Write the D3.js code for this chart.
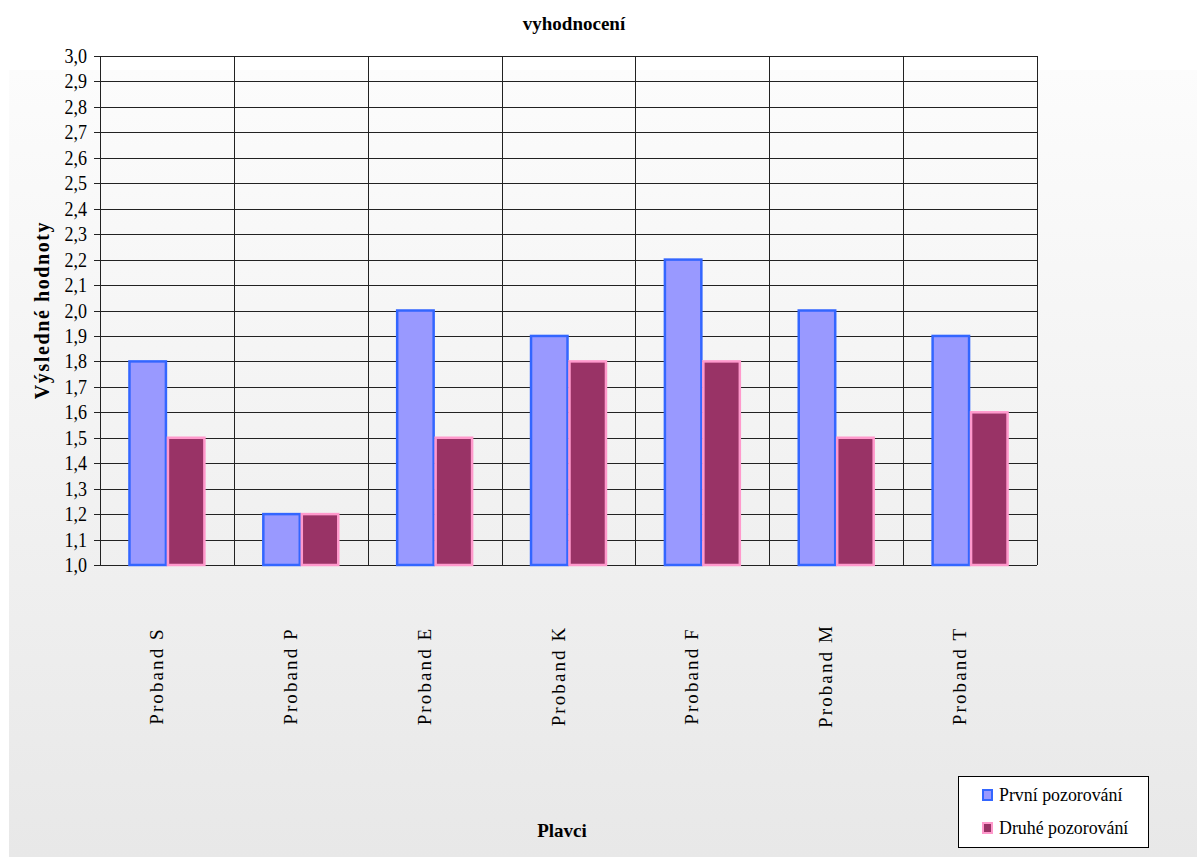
<!DOCTYPE html>
<html>
<head>
<meta charset="utf-8">
<script src="https://cdn.jsdelivr.net/npm/d3@7"></script>
<style>
  body { margin: 0; background: #fff; }
  svg { display: block; }
  svg text { font-family: "Times New Roman", "Liberation Serif", Tinos, "DejaVu Serif", serif; fill: #000; }
</style>
</head>
<body>
<svg id="chart" width="1197" height="857"></svg>
<script>
// DATA
const categories = ["Proband S", "Proband P", "Proband E", "Proband K", "Proband F", "Proband M", "Proband T"];
const seriesNames = ["První pozorování", "Druhé pozorování"];
const prvni = [1.8, 1.2, 2.0, 1.9, 2.2, 2.0, 1.9];
const druhe = [1.5, 1.2, 1.5, 1.8, 1.8, 1.5, 1.6];
const yTicks = [1.0, 1.1, 1.2, 1.3, 1.4, 1.5, 1.6, 1.7, 1.8, 1.9, 2.0, 2.1, 2.2, 2.3, 2.4, 2.5, 2.6, 2.7, 2.8, 2.9, 3.0];

const fills = ["#9999ff", "#993366"];
const strokes = ["#3366ff", "#ff99cc"];

const svg = d3.select("#chart");
const W = 1197, H = 857;
const plot = { left: 100, right: 1037, top: 56, bottom: 565 };

// BACKGROUND GRADIENT
const defs = svg.append("defs");
const grad = defs.append("linearGradient").attr("id", "bg").attr("x1", 0).attr("y1", 0).attr("x2", 0).attr("y2", 1);
grad.append("stop").attr("offset", "0%").attr("stop-color", "#fcfcfc");
grad.append("stop").attr("offset", "100%").attr("stop-color", "#e8e8e8");
svg.append("rect").attr("x", 9).attr("y", 70).attr("width", W - 9).attr("height", H - 70).attr("fill", "url(#bg)");

// SCALES
const x0 = d3.scaleBand().domain(categories).range([plot.left, plot.right]).padding(0);
const x1 = d3.scaleBand().domain(seriesNames).range([0, x0.bandwidth()]).paddingInner(0).paddingOuter(0.74);
const y = d3.scaleLinear().domain([1.0, 3.0]).range([plot.bottom, plot.top]);

// GRID
const grid = svg.append("g");
grid.selectAll("line.h").data(yTicks).join("line")
    .attr("x1", plot.left - 6).attr("x2", plot.right)
    .attr("y1", d => Math.round(y(d)) + 0.5).attr("y2", d => Math.round(y(d)) + 0.5)
    .attr("stroke", "#222").attr("stroke-width", 1);
const vlines = categories.map(c => x0(c)).concat([plot.right]);
grid.selectAll("line.v").data(vlines).join("line")
    .attr("x1", d => Math.round(d) + 0.5).attr("x2", d => Math.round(d) + 0.5)
    .attr("y1", plot.top).attr("y2", plot.bottom)
    .attr("stroke", "#222").attr("stroke-width", 1);

// BARS
const rows = categories.map((c, i) => ({ cat: c, vals: [prvni[i], druhe[i]] }));
const groups = svg.append("g").selectAll("g").data(rows).join("g")
    .attr("transform", d => `translate(${x0(d.cat)},0)`);
groups.selectAll("rect").data(d => d.vals.map((v, k) => ({ k, v }))).join("rect")
    .attr("x", d => x1(seriesNames[d.k]) + 1)
    .attr("width", x1.bandwidth() - 2)
    .attr("y", d => y(d.v))
    .attr("height", d => y(1.0) - y(d.v))
    .attr("fill", d => fills[d.k])
    .attr("stroke", d => strokes[d.k])
    .attr("stroke-width", 2.5);

// Y AXIS LABELS
svg.append("g").selectAll("text").data(yTicks).join("text")
    .attr("transform", d => `translate(87,${y(d) + 7}) scale(0.82,1)`)
    .attr("text-anchor", "end")
    .style("font-size", "22px")
    .text(d => d3.format(".1f")(d).replace(".", ","));

// X LABELS
svg.append("g").selectAll("text").data(categories).join("text")
    .attr("transform", c => `translate(${x0(c) + x0.bandwidth() / 2 - 4},676) rotate(-90)`)
    .attr("text-anchor", "middle")
    .style("font-size", "19px")
    .style("letter-spacing", "2.1px")
    .text(c => c);

// TITLES
svg.append("text").attr("x", 574).attr("y", 30).attr("text-anchor", "middle")
    .style("font-size", "19px").style("font-weight", "bold").text("vyhodnocení");
svg.append("text").attr("transform", "translate(49,310) rotate(-90)").attr("text-anchor", "middle")
    .style("font-size", "20px").style("font-weight", "bold").style("letter-spacing", "1.6px")
    .text("Výsledné hodnoty");
svg.append("text").attr("x", 562).attr("y", 837).attr("text-anchor", "middle")
    .style("font-size", "19px").style("font-weight", "bold").text("Plavci");

// LEGEND
const lg = svg.append("g").attr("transform", "translate(958,776)");
lg.append("rect").attr("x", 0.5).attr("y", 0.5).attr("width", 190).attr("height", 71)
    .attr("fill", "#fff").attr("stroke", "#000");
const items = lg.selectAll("g").data(seriesNames).join("g")
    .attr("transform", (d, i) => `translate(0,${19 + i * 33})`);
items.append("rect").attr("x", 25).attr("y", -5).attr("width", 9).attr("height", 10)
    .attr("fill", (d, i) => fills[i]).attr("stroke", (d, i) => strokes[i]).attr("stroke-width", 2);
items.append("text").attr("transform", "translate(41,6) scale(0.94,1)")
    .style("font-size", "19px").text(d => d);
</script>
</body>
</html>
